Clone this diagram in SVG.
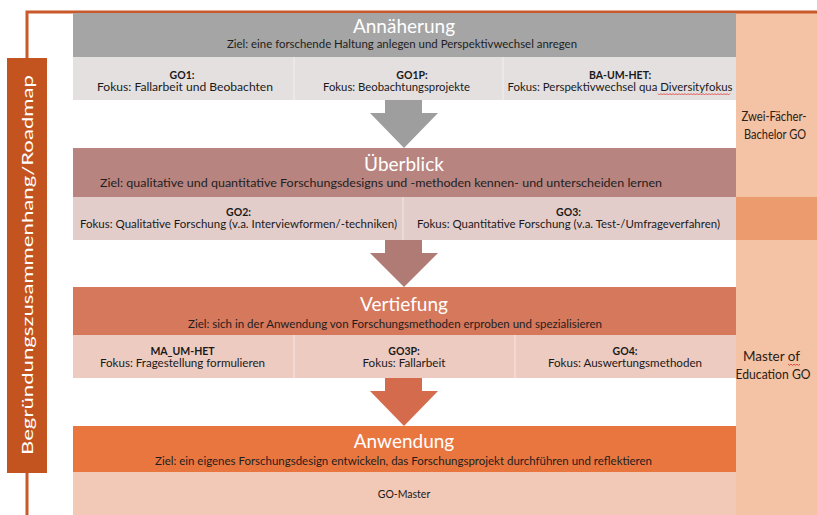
<svg xmlns="http://www.w3.org/2000/svg" width="817" height="515" viewBox="0 0 817 515">
  <style>
    text { font-family: Lato, "Open Sans", "Liberation Sans", sans-serif; }
    .title { font-size: 19px; fill: #ffffff; text-anchor: middle; }
    .goal { font-size: 10.5px; fill: #1e1e1e; }
    .mod-name { font-size: 10.5px; font-weight: bold; fill: #1a1a1a; text-anchor: middle; }
    .mod-focus { font-size: 10.5px; fill: #1a1a1a; text-anchor: middle; }
    .side { font-size: 13px; fill: #2a2014; text-anchor: middle; }
    .divider { stroke: #ffffff; stroke-opacity: 0.55; stroke-width: 1; }
    .squiggle { fill: none; stroke: #e0302a; stroke-width: 0.8; }
  </style>

  <rect width="817" height="515" fill="#ffffff"/>

  <!-- degree programme column on the right -->
  <g id="programmes">
    <rect x="736" y="12" width="81" height="503" fill="#f4c2a5"/>
    <rect x="736" y="197" width="81" height="43" fill="#eb9b6e"/>
    <g id="bachelor">
      <text class="side" x="774" y="121" textLength="65" lengthAdjust="spacingAndGlyphs">Zwei-Fächer-</text>
      <text class="side" x="775" y="139" textLength="62" lengthAdjust="spacingAndGlyphs">Bachelor GO</text>
    </g>
    <g id="master">
      <text class="side" x="771.5" y="361" textLength="57" lengthAdjust="spacingAndGlyphs">Master of</text>
      <text class="side" x="773" y="379" textLength="75" lengthAdjust="spacingAndGlyphs">Education GO</text>
      <path class="squiggle" d="M788,364 l1.5,1.5 l1.5,-1.5 l1.5,1.5 l1.5,-1.5 l1.5,1.5 l1.5,-1.5 l1.5,1.5 l1.5,-1.5"/>
    </g>
  </g>

  <!-- frame line and roadmap bar -->
  <g id="roadmap">
    <path d="M27,515 V12 H817" fill="none" stroke="#c8592a" stroke-width="3"/>
    <rect x="7" y="58" width="40" height="415" fill="#c4541f"/>
    <text x="0" y="0" transform="translate(33 265) rotate(-90)" font-size="16" fill="#ffffff" text-anchor="middle" textLength="380" lengthAdjust="spacingAndGlyphs">Begründungszusammenhang/Roadmap</text>
  </g>

  <!-- stage 1 -->
  <g id="stage-annaeherung">
    <rect x="73" y="13" width="663" height="44" fill="#a5a5a5"/>
    <text class="title" x="404" y="33">Annäherung</text>
    <text class="goal" x="227" y="48" textLength="350" lengthAdjust="spacingAndGlyphs">Ziel: eine forschende Haltung anlegen und Perspektivwechsel anregen</text>
  </g>
  <g id="modules-annaeherung">
    <rect x="73" y="57" width="663" height="43" fill="#e4e0e0"/>
    <line class="divider" x1="294" y1="57" x2="294" y2="100"/>
    <line class="divider" x1="503" y1="57" x2="503" y2="100"/>
    <g id="go1">
      <text class="mod-name" x="182" y="79">GO1:</text>
      <text class="mod-focus" x="185" y="91" textLength="176" lengthAdjust="spacingAndGlyphs">Fokus: Fallarbeit und Beobachten</text>
    </g>
    <g id="go1p">
      <text class="mod-name" x="412" y="79">GO1P:</text>
      <text class="mod-focus" x="396.5" y="91" textLength="147" lengthAdjust="spacingAndGlyphs">Fokus: Beobachtungsprojekte</text>
    </g>
    <g id="ba-um-het">
      <text class="mod-name" x="620" y="79">BA-UM-HET:</text>
      <text class="mod-focus" x="620" y="91" textLength="225" lengthAdjust="spacingAndGlyphs">Fokus: Perspektivwechsel qua Diversityfokus</text>
      <path class="squiggle" d="M658,93.5 l1.5,1.5 l1.5,-1.5 l1.5,1.5 l1.5,-1.5 l1.5,1.5 l1.5,-1.5 l1.5,1.5 l1.5,-1.5 l1.5,1.5 l1.5,-1.5 l1.5,1.5 l1.5,-1.5 l1.5,1.5 l1.5,-1.5 l1.5,1.5 l1.5,-1.5 l1.5,1.5 l1.5,-1.5 l1.5,1.5 l1.5,-1.5 l1.5,1.5 l1.5,-1.5 l1.5,1.5 l1.5,-1.5 l1.5,1.5 l1.5,-1.5 l1.5,1.5 l1.5,-1.5 l1.5,1.5 l1.5,-1.5 l1.5,1.5 l1.5,-1.5 l1.5,1.5 l1.5,-1.5 l1.5,1.5 l1.5,-1.5 l1.5,1.5 l1.5,-1.5 l1.5,1.5 l1.5,-1.5 l1.5,1.5 l1.5,-1.5 l1.5,1.5 l1.5,-1.5 l1.5,1.5 l1.5,-1.5 l1.5,1.5 l1.5,-1.5"/>
    </g>
  </g>

  <!-- stage 2 -->
  <g id="stage-ueberblick">
    <rect x="73" y="148" width="663" height="49" fill="#b8847f"/>
    <text class="title" x="404" y="171">Überblick</text>
    <text class="goal" x="100" y="187" textLength="562" lengthAdjust="spacingAndGlyphs">Ziel: qualitative und quantitative Forschungsdesigns und -methoden kennen- und unterscheiden lernen</text>
  </g>
  <g id="modules-ueberblick">
    <rect x="73" y="197" width="663" height="43" fill="#e3cdcb"/>
    <line class="divider" x1="403" y1="197" x2="403" y2="240"/>
    <g id="go2">
      <text class="mod-name" x="238.5" y="216">GO2:</text>
      <text class="mod-focus" x="238.5" y="228" textLength="317" lengthAdjust="spacingAndGlyphs">Fokus: Qualitative Forschung (v.a. Interviewformen/-techniken)</text>
    </g>
    <g id="go3">
      <text class="mod-name" x="568.5" y="216">GO3:</text>
      <text class="mod-focus" x="568.5" y="228" textLength="303" lengthAdjust="spacingAndGlyphs">Fokus: Quantitative Forschung (v.a. Test-/Umfrageverfahren)</text>
    </g>
  </g>

  <!-- stage 3 -->
  <g id="stage-vertiefung">
    <rect x="73" y="287" width="663" height="48" fill="#d6785c"/>
    <text class="title" x="404" y="311">Vertiefung</text>
    <text class="goal" x="188" y="328" textLength="414" lengthAdjust="spacingAndGlyphs">Ziel: sich in der Anwendung von Forschungsmethoden erproben und spezialisieren</text>
  </g>
  <g id="modules-vertiefung">
    <rect x="73" y="335" width="663" height="43" fill="#edcbc1"/>
    <line class="divider" x1="294" y1="335" x2="294" y2="378"/>
    <line class="divider" x1="515" y1="335" x2="515" y2="378"/>
    <g id="ma-um-het">
      <text class="mod-name" x="182.5" y="355">MA_UM-HET</text>
      <text class="mod-focus" x="182.5" y="367" textLength="165" lengthAdjust="spacingAndGlyphs">Fokus: Fragestellung formulieren</text>
    </g>
    <g id="go3p">
      <text class="mod-name" x="404" y="355">GO3P:</text>
      <text class="mod-focus" x="404" y="367" textLength="83" lengthAdjust="spacingAndGlyphs">Fokus: Fallarbeit</text>
    </g>
    <g id="go4">
      <text class="mod-name" x="625" y="355">GO4:</text>
      <text class="mod-focus" x="625" y="367" textLength="154" lengthAdjust="spacingAndGlyphs">Fokus: Auswertungsmethoden</text>
    </g>
  </g>

  <!-- stage 4 -->
  <g id="stage-anwendung">
    <rect x="73" y="426" width="663" height="46" fill="#e9763f"/>
    <text class="title" x="404" y="448">Anwendung</text>
    <text class="goal" x="155" y="465" textLength="497" lengthAdjust="spacingAndGlyphs">Ziel: ein eigenes Forschungsdesign entwickeln, das Forschungsprojekt durchführen und reflektieren</text>
  </g>
  <g id="modules-anwendung">
    <rect x="73" y="472" width="663" height="43" fill="#f2c8b6"/>
    <g id="go-master">
      <text class="mod-focus" x="404" y="498">GO-Master</text>
    </g>
  </g>

  <!-- block arrows between the stages -->
  <g id="connectors">
    <polygon points="385,100 422,100 422,113 438,113 404,148 370,113 385,113" fill="#9e9e9e"/>
    <polygon points="385,240 422,240 422,253 438,253 404,287 370,253 385,253" fill="#b07a75"/>
    <polygon points="385,378 422,378 422,391 438,391 404,426 370,391 385,391" fill="#d46b4c"/>
  </g>
</svg>
